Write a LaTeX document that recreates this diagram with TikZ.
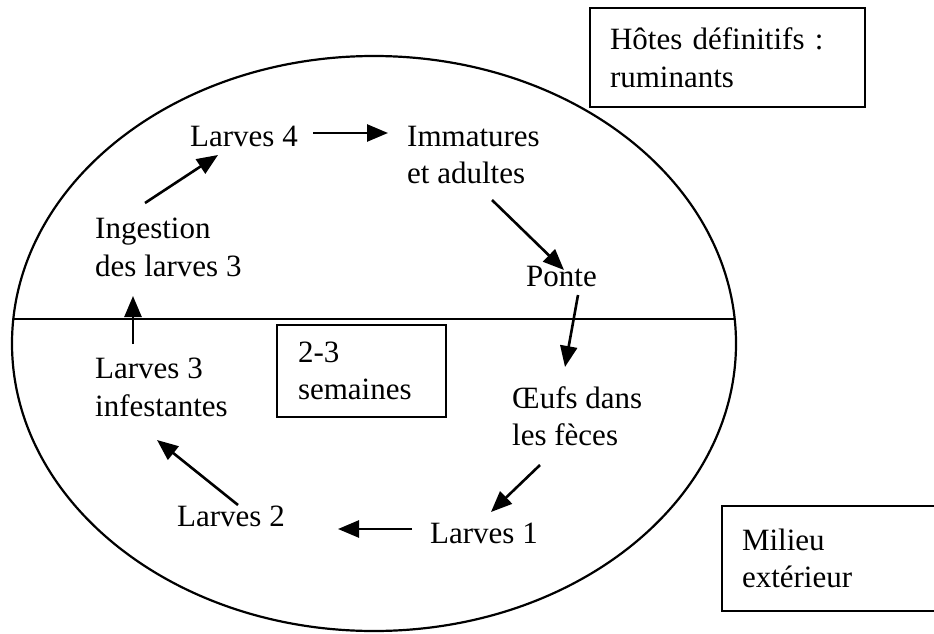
\documentclass[tikz,border=0pt]{standalone}
\usepackage{fontspec}
\setmainfont{Liberation Serif}
\usetikzlibrary{arrows.meta}
\begin{document}
\begin{tikzpicture}[x=1pt,y=-1pt,
  lbl/.style={anchor=north west,inner sep=0pt,align=left,
    font=\fontsize{31}{37.5}\selectfont},
  boxlbl/.style={anchor=north west,draw,line width=2pt,inner ysep=0pt,
    align=left,font=\fontsize{31}{37.5}\selectfont},
  arr/.style={line width=2.6pt,-{Triangle[length=21pt,width=17pt]}},
  rim/.style={line width=2.2pt}]
\useasboundingbox (0,0) rectangle (934,634);

% host / environment outline
\draw[rim] (374,343.5) ellipse [x radius=362pt, y radius=287.5pt];
\draw[line width=2.6pt] (13.3,319) -- (734.7,319);

% stages of the cycle
\node[lbl] (l4)   at (190,126) {Larves 4};
\node[lbl] (imm)  at (407,126) {Immatures\\et adultes};
\node[lbl] (ing)  at (95,218)  {Ingestion\\des larves 3};
\node[lbl] (pon)  at (526,266) {Ponte};
\node[lbl] (l3)   at (95,358)  {Larves 3\\infestantes};
\node[lbl] (oeu)  at (512,386) {Œufs dans\\les fèces};
\node[lbl] (l2)   at (177,506) {Larves 2};
\node[lbl] (l1)   at (430,523) {Larves 1};

% framed captions
\node[boxlbl,inner xsep=20pt,text width=235pt,minimum height=99pt]
  (hote) at (589,7) {Hôtes définitifs~:\\ruminants};
\node[boxlbl,inner xsep=21pt,text width=127pt,minimum height=92pt]
  (duree) at (276,324) {2-3\\semaines};
\node[boxlbl,inner xsep=20pt,text width=175pt,minimum height=105pt]
  (milieu) at (721,505) {Milieu\\extérieur};

% transitions
\draw[arr] ([shift={(50,-15)}]ing.north west) -- ([shift={(28,29)}]l4.north west);
\draw[arr] ([shift={(123,7)}]l4.north west)   -- ([shift={(-19,7)}]imm.north west);
\draw[arr] ([shift={(85,74)}]imm.north west)  -- ([shift={(38,4)}]pon.north west);
\draw[arr] ([shift={(52,29)}]pon.north west)  -- ([shift={(53,-19)}]oeu.north west);
\draw[arr] ([shift={(28,79)}]oeu.north west)  -- ([shift={(61,-11)}]l1.north west);
\draw[arr] ([shift={(-18,6)}]l1.north west)   -- ([shift={(161,23)}]l2.north west);
\draw[arr] ([shift={(61,-1)}]l2.north west)   -- ([shift={(62,82)}]l3.north west);
\draw[arr] ([shift={(38,-14)}]l3.north west)  -- ([shift={(38,78)}]ing.north west);
\end{tikzpicture}
\end{document}
